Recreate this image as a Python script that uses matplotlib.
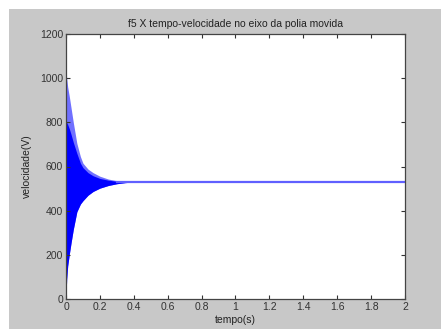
import matplotlib.pyplot as plt
from matplotlib.patches import Rectangle

# envelope of the velocity oscillation
t_env = [0, 0.004, 0.01, 0.02, 0.03, 0.043, 0.064, 0.085, 0.1, 0.13, 0.16, 0.2, 0.25, 0.3, 0.35, 0.4, 0.45]
upper_outer = [1040, 1000, 960, 915, 865, 800, 705, 645, 615, 588, 572, 556, 543, 536, 532, 531, 530]
upper_dense = [800, 800, 790, 770, 745, 710, 660, 615, 595, 572, 558, 546, 538, 533, 531, 530.5, 530]
lower = [0, 90, 150, 205, 255, 315, 395, 430, 445, 470, 487, 502, 514, 522, 527, 529.5, 530]

# steady-state part
t_steady = [0.3, 2.0]
v_steady = [530, 530]

xticks = [0, 0.2, 0.4, 0.6, 0.8, 1, 1.2, 1.4, 1.6, 1.8, 2]
xticklabels = ['0', '0.2', '0.4', '0.6', '0.8', '1', '1.2', '1.4', '1.6', '1.8', '2']
yticks = [0, 200, 400, 600, 800, 1000, 1200]

plt.rcParams['font.family'] = ['Liberation Sans', 'DejaVu Sans']

fig = plt.figure(figsize=(4.41, 3.29), dpi=100, facecolor='white')
# grey MATLAB figure background (screenshot has a thin white margin top/left)
fig.patches.append(Rectangle((9 / 441, 0), 1, 1 - 9 / 329, transform=fig.transFigure,
                             facecolor='#c8c8c8', edgecolor='none', zorder=-10))

ax = fig.add_axes([66 / 441, 1 - 299 / 329, (405 - 66) / 441, (299 - 34) / 329])
ax.set_facecolor('white')

ax.fill_between(t_env, lower, upper_outer, color='#7070ff', linewidth=0)
ax.fill_between(t_env, lower, upper_dense, color='#0000ff', linewidth=0)
ax.plot(t_steady, v_steady, color='#6060ff', linewidth=1.6)
ax.plot([0, 0], [0, 1040], color='#6060ff', linewidth=1.2)

ax.set_xlim(0, 2)
ax.set_ylim(0, 1200)
ax.set_xticks(xticks)
ax.set_xticklabels(xticklabels)
ax.set_yticks(yticks)
ax.tick_params(direction='in', top=True, right=True, length=3, width=0.8,
               labelsize=7.5, colors='#333333', pad=2)
for s in ax.spines.values():
    s.set_color('#444444')
    s.set_linewidth(0.9)

ax.set_title('f5 X tempo-velocidade no eixo da polia movida', fontsize=7.5, color='#222222', pad=5)
ax.set_xlabel('tempo(s)', fontsize=7.5, color='#222222', labelpad=2)
ax.set_ylabel('velocidade(V)', fontsize=7.5, color='#222222', labelpad=6)

fig.savefig('out.png', dpi=100, facecolor=fig.get_facecolor())
